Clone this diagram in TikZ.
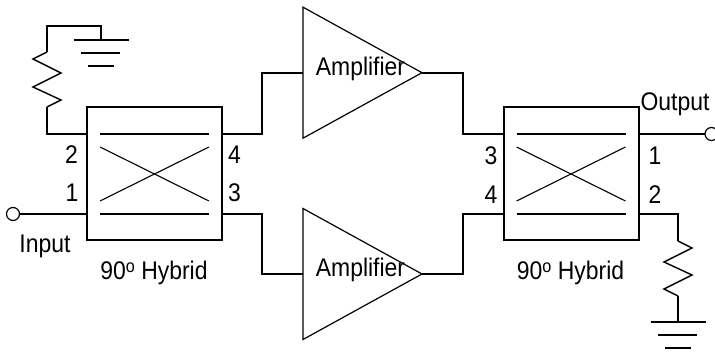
\documentclass[tikz,border=0pt]{standalone}
\usepackage{fontspec}
\setmainfont[FakeStretch=0.9]{Liberation Sans}
\usetikzlibrary{shapes.geometric}
\newcommand{\hybridtext}{90\raisebox{.27em}{\fontsize{18}{18}\selectfont o} Hybrid}
\tikzset{
    wire/.style={line width=2pt, line join=miter},
    zigzag/.style={line width=1.4pt, line join=miter},
    thinwire/.style={line width=1.1pt},
    hybrid/.style={draw, line width=2pt, minimum width=135pt, minimum height=133pt, inner sep=0pt, outer sep=0pt},
    amp/.style={draw, line width=1.2pt, isosceles triangle, isosceles triangle apex angle=57.7, isosceles triangle stretches,
        minimum width=131pt, minimum height=119pt, inner sep=0pt, outer sep=0pt, anchor=west},
    term/.style={circle, draw, line width=1.2pt, minimum size=13pt, inner sep=0pt, outer sep=0pt},
    lbl/.style={inner sep=0pt, font=\fontsize{25.5}{27}\selectfont},
}
\begin{document}
\begin{tikzpicture}[x=1pt, y=-1pt]
    \useasboundingbox (0,0) rectangle (715,355);
    % couplers
    \foreach \name/\cx in {hybA/154.5, hybB/571} {
        \node[hybrid] (\name) at (\cx,173.5) {};
        \draw[wire] (\cx-54.5,134) -- (\cx+54.5,134);
        \draw[wire] (\cx-54.5,214) -- (\cx+54.5,214);
        \draw[thinwire] (\cx-54.5,147) -- (\cx+54.5,201);
        \draw[thinwire] (\cx-54.5,201) -- (\cx+54.5,147);
        \node[lbl] at (\cx-.5,272.5) {\hybridtext};
    }
    \node[amp] (ampTop) at (303,72.7) {};
    \node[amp] (ampBot) at (303,274) {};
    \node[lbl] at (360.5,69) {Amplifier};
    \node[lbl] at (360.5,270) {Amplifier};
    \node[term] (inTerm) at (13,214) {};
    \node[term] (outTerm) at (711.5,134) {};

    \coordinate (portA2) at (87,134);
    \coordinate (portA1) at (87,214);
    \coordinate (portA4) at (222,134);
    \coordinate (portA3) at (222,214);
    \coordinate (portB3) at (504,134);
    \coordinate (portB4) at (504,214);
    \coordinate (portB1) at (638,134);
    \coordinate (portB2) at (638,214);
    \coordinate (gndA) at (101,40);
    \coordinate (gndB) at (678,322);
    \coordinate (resAbot) at (47,107);
    \coordinate (resAtop) at (47,52);
    \coordinate (resBtop) at (678,241);
    \coordinate (resBbot) at (678,296);

    \draw[wire] (inTerm) -- (portA1);
    \draw[wire] (portA4) -- ++(40,0) |- (ampTop.west);
    \draw[wire] (portA3) -- ++(40,0) |- (ampBot.west);
    \draw[wire] (ampTop.apex) -- ++(41,0) |- (portB3);
    \draw[wire] (ampBot.apex) -- ++(41,0) |- (portB4);
    \draw[wire] (portB1) -- (outTerm);

    % terminations
    \draw[wire] (portA2) -| (resAbot);
    \draw[zigzag] (resAbot) -- ++(14,-7) -- ++(-28,-13) -- ++(28,-14) -- ++(-28,-14) -- (resAtop);
    \draw[wire] (resAtop) |- (74,26) -| (gndA);
    \draw[wire] (portB2) -| (resBtop);
    \draw[zigzag] (resBtop) -- ++(14,7) -- ++(-28,14) -- ++(28,13) -- ++(-28,14) -- (resBbot);
    \draw[wire] (resBbot) -- (gndB);
    \foreach \gnd in {gndA, gndB} {
        \draw[wire] (\gnd) ++(-27.5,0) -- ++(55,0);
        \draw[wire] (\gnd) ++(-20,13) -- ++(39,0);
        \draw[wire] (\gnd) ++(-13,26) -- ++(26,0);
    }

    \node[lbl] at (71.5,155) {2};
    \node[lbl] at (72,193) {1};
    \node[lbl] at (234.5,155) {4};
    \node[lbl] at (234.5,193) {3};
    \node[lbl] at (491,156) {3};
    \node[lbl] at (491,194.5) {4};
    \node[lbl] at (655,156) {1};
    \node[lbl] at (655,194.5) {2};
    \node[lbl] at (45,246) {Input};
    \node[lbl] at (675,104) {Output};
\end{tikzpicture}
\end{document}
